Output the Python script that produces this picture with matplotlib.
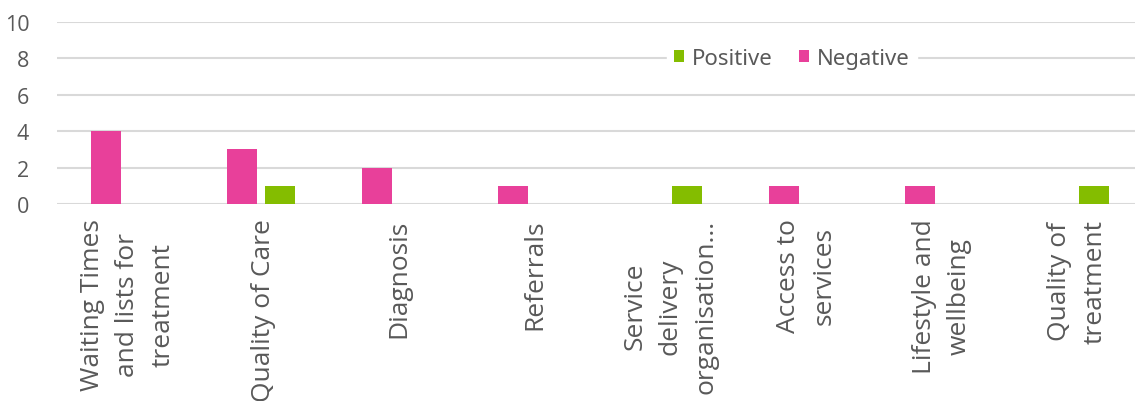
import numpy as np
import matplotlib.pyplot as plt

categories = ["Waiting Times\nand lists for\ntreatment", "Quality of Care", "Diagnosis", "Referrals",
              "Service\ndelivery\norganisation...", "Access to\nservices", "Lifestyle and\nwellbeing",
              "Quality of\ntreatment"]
negative = [4, 3, 2, 1, 0, 1, 1, 0]
positive = [0, 1, 0, 0, 1, 0, 0, 1]
yticks = [0, 2, 4, 6, 8, 10]

pink = "#E8409A"
green = "#84BD00"
grey = "#595959"

fig = plt.figure(figsize=(11.35, 4.02), dpi=100, facecolor="white")
W, H = 1135, 402
unit = 135.7
ax = fig.add_axes([57/W, (H-205)/H, (W-57)/W, (205-23)/H])

x = np.arange(len(categories))
bw = 30/unit
off = 19/unit
ax.bar(x-off, negative, width=bw, color=pink, label="Negative", zorder=3)
ax.bar(x+off, positive, width=bw, color=green, label="Positive", zorder=3)

ax.set_xlim(-0.5, -0.5 + (W-57)/unit)
ax.set_ylim(0, 10)
ax.set_yticks(yticks)
ax.yaxis.grid(True, color="#D9D9D9", linewidth=1.5, zorder=0)
ax.set_axisbelow(True)
for s in ax.spines.values():
    s.set_visible(False)
ax.set_xticks([])
ax.set_yticklabels([str(v) for v in yticks])
ax.tick_params(axis="y", length=0, pad=20, labelsize=15.5, labelcolor=grey)
for lab in ax.get_yticklabels():
    lab.set_fontfamily("Open Sans")

for xi, c in zip(x, categories):
    ax.text(xi + 0.02, -0.8, c, rotation=90, ha="center", va="top", multialignment="center",
            fontsize=19, color=grey, family="Open Sans", linespacing=1.55)

h, l = ax.get_legend_handles_labels()
leg = ax.legend(h[::-1], l[::-1], loc="center", bbox_to_anchor=((792-57)/(W-57), 0.8),
                ncol=2, frameon=True, fancybox=False, edgecolor="white", framealpha=1,
                handlelength=0.45, handleheight=0.45, handletextpad=0.35, columnspacing=1.2,
                borderpad=0.3, borderaxespad=0,
                prop={"family": "Noto Sans", "size": 16})
for t in leg.get_texts():
    t.set_color(grey)

fig.savefig("out.png", dpi=100, facecolor="white")
